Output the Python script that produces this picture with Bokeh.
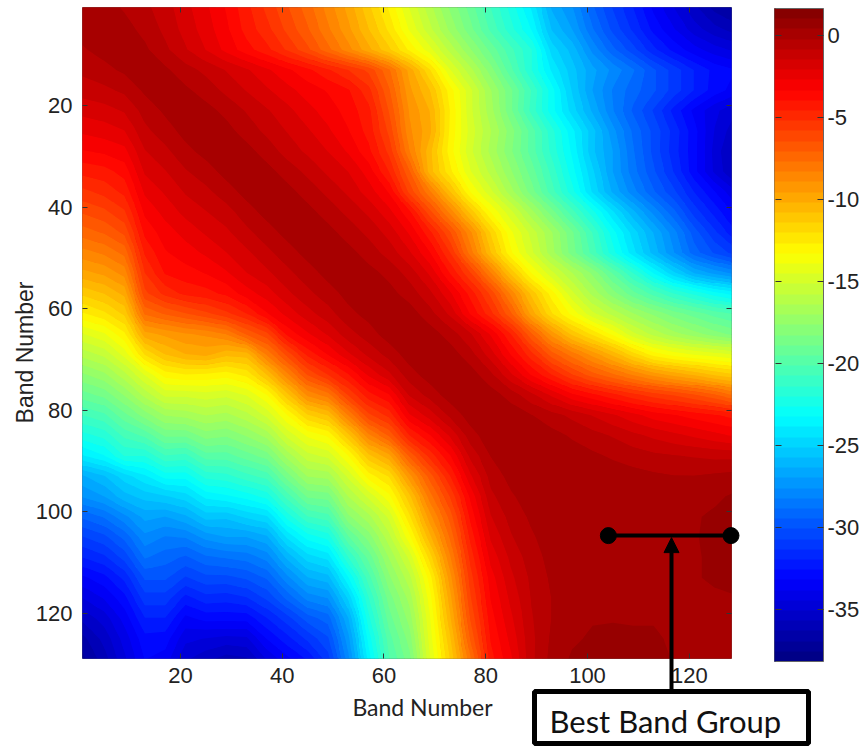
import numpy as np
from bokeh.plotting import figure
from bokeh.layouts import column
from bokeh.core.properties import value
from bokeh.models import (LinearColorMapper, ColorBar, FixedTicker, LinearAxis, Range1d, AllLabels,
                          Arrow, NormalHead)
from bokeh.embed import file_html
from bokeh.resources import INLINE

# band positions of the read grid
bands = list(range(1, 130, 4))
x_ticks = [20, 40, 60, 80, 100, 120]
y_ticks = [20, 40, 60, 80, 100, 120]
cbar_ticks = [-35, -30, -25, -20, -15, -10, -5, 0]
value_low, value_high = -38.2, 1.65
x_label = "Band Number"
y_label = "Band Number"
callout = "Best Band Group"
group_start, group_end = 104.1, 128.2
group_row = 104.7

# upper triangle of the symmetric matrix, each row starts on the diagonal
r01 = [.2,0,-.3,-.7,-1.2,-1.9,-2.6,-3.4,-4.4,-5.4,-6.4,-7.4,-8.6,-9.8,-11.3,-12.8,-14.6,-16.2,-17.8,-19.2,-20.8,-22.3,-24,-26.5,-27.6,-29.4,-30.8,-32,-33.4,-34.5,-35.6,-36.6,-37.2]
r05 = [.3,0,-.4,-1,-1.7,-2.4,-3.2,-4.2,-5,-6,-7,-8.2,-9.4,-10.8,-12.2,-14,-15.6,-17.2,-18.7,-20.3,-21.8,-23.3,-25.8,-27,-28.8,-30.3,-31.5,-32.8,-33.8,-34.8,-35.5,-36]
r09 = [.35,-.1,-.7,-1.4,-2.1,-2.9,-3.7,-4.4,-5.3,-6.3,-7.5,-8.7,-10,-11.3,-12.8,-14.3,-16,-17.6,-19.1,-20.6,-22,-24.8,-26,-27.8,-29.3,-30.5,-31.8,-32.8,-33.6,-34.2,-34.6]
r13 = [.3,-.1,-.6,-1,-1.5,-2,-2.6,-3.2,-3.8,-4.5,-5.2,-6,-7.6,-9.8,-12,-14.5,-16.2,-18,-20,-22,-24,-25.5,-26.8,-27.8,-28.8,-30,-31,-32,-32.8,-33.2]
r17 = [.35,-.1,-.5,-1,-1.5,-2,-2.5,-3,-3.4,-3.9,-5,-7,-9.4,-10.8,-13,-15,-17,-18.8,-20.8,-23,-25.2,-27,-28.3,-29.2,-30,-31,-32,-32.9,-33.5]
r21 = [.35,0,-.4,-.9,-1.4,-1.9,-2.5,-3,-3.6,-4.4,-6.5,-9,-10.2,-12.7,-15,-16.8,-18.8,-21,-23,-24.8,-26.5,-28.2,-29.6,-30.8,-32.2,-33.4,-34.3,-35]
r25 = [.35,0,-.5,-1,-1.5,-2,-2.6,-3.3,-4.2,-6,-8.8,-10,-12.8,-14.8,-16.4,-18,-19.8,-21.8,-23.7,-25.5,-27.4,-29,-30.3,-31.6,-33,-34.5,-35.5]
r29 = [.35,0,-.5,-1.1,-1.6,-2.1,-2.8,-3.8,-5.4,-8.3,-10.6,-13,-15,-16.6,-18.2,-19.8,-21.6,-23.4,-25.6,-27,-28.8,-30.3,-31.7,-33,-34.7,-36]
r33 = [.35,0,-.5,-1,-1.6,-2.1,-3,-4.6,-7,-10.5,-12.5,-14.5,-16,-17.6,-19.2,-21,-23,-25,-27,-28.6,-30,-31.4,-33,-34.6,-35.8]
r37 = [.35,0,-.5,-1,-1.6,-2.4,-3.4,-6,-8.2,-10.8,-13.3,-15,-16.8,-18.6,-20.5,-22.4,-24.6,-26.5,-28,-29.4,-30.6,-32,-33.2,-34.4]
r41 = [.35,0,-.5,-1,-1.6,-2.5,-3.8,-6.2,-8.5,-11,-13.3,-15,-16.8,-18.6,-20.5,-22.4,-24.4,-26.2,-27.8,-29.3,-31,-32.2,-33.4]
r45 = [.35,0,-.5,-1,-1.7,-2.8,-4.4,-6.4,-8.8,-11.5,-13.8,-15.4,-17,-18.8,-20.8,-23,-24.8,-26.4,-28,-29.8,-31.2,-32.5]
r49 = [.35,0,-.5,-1.1,-2,-3.3,-5.2,-8,-10.8,-13.2,-15,-16.8,-18.6,-20.4,-22.4,-24.3,-26,-27.6,-29.2,-30.2,-31]
r53 = [.35,0,-.4,-1.1,-2.2,-4,-5.8,-8.3,-11,-13.3,-15,-16.4,-17.8,-19.6,-21.4,-23.3,-25,-26.4,-27.2,-27.8]
r57 = [.35,0,-.5,-1.3,-2.6,-4.2,-6,-8.5,-11,-13,-15,-16.6,-18,-19.3,-20.4,-21.4,-22.2,-23,-23.6]
r61 = [.35,.1,-.6,-1.6,-3.4,-5,-7,-9.8,-12,-13.5,-15,-16,-17,-17.8,-18.6,-19.2,-19.8,-20.2]
r65 = [.35,.1,-.5,-1.4,-2.8,-4.6,-7,-9.2,-11,-12.2,-13.5,-15,-16,-16.8,-17.4,-18,-18.5]
r69 = [.35,.1,-.6,-1.8,-3.4,-5,-6.8,-8,-9.2,-10.4,-11.8,-13,-13.6,-14,-14.3,-14.6]
r73 = [.35,.1,-.7,-2,-3.4,-4.6,-5.8,-6.8,-7.6,-8.4,-9.2,-9.8,-10.3,-10.9,-11.4]
r77 = [.35,.1,-.5,-1.3,-2.2,-3.2,-3.8,-4.4,-5,-5.5,-5.9,-6.4,-7,-7.8]
r81 = [.35,.2,-.2,-.6,-1,-1.5,-2,-2.5,-3,-3.3,-3.6,-3.9,-4.2]
r85 = [.35,.3,0,-.3,-.6,-.9,-1.3,-1.6,-1.9,-2.2,-2.5,-2.8]
r89 = [.35,.3,.1,-.1,-.3,-.5,-.7,-.8,-.9,-1,-1]
r93 = [.35,.3,.2,.1,0,-.1,-.2,-.2,-.1,0]
r97 = [.35,.3,.3,.3,.2,.2,.2,.3,.5]
r101 = [.35,.3,.3,.3,.3,.35,.5,.8]
r105 = [.35,.3,.3,.3,.35,.6,.9]
r109 = [.35,.3,.3,.35,.5,.9]
r113 = [.35,.3,.35,.5,.7]
r117 = [.35,.3,.3,.35]
r121 = [.35,.3,.3]
r125 = [.35,.3]
r129 = [.35]
rows = [r01,r05,r09,r13,r17,r21,r25,r29,r33,r37,r41,r45,r49,r53,r57,r61,r65,r69,r73,r77,r81,r85,r89,r93,r97,r101,r105,r109,r113,r117,r121,r125,r129]

n = len(bands)
Z = np.zeros((n, n))
for i, row in enumerate(rows):
    assert len(row) == n - i, i
    Z[i, i:] = row
    Z[i:, i] = row


def jet(m=64):
    out = []
    for k in range(m):
        t = (k + 0.5) / m
        r = np.clip(min(4 * t - 1.5, -4 * t + 4.5), 0, 1)
        g = np.clip(min(4 * t - 0.5, -4 * t + 3.5), 0, 1)
        b = np.clip(min(4 * t + 0.5, -4 * t + 2.5), 0, 1)
        out.append("#%02x%02x%02x" % (int(r * 255), int(g * 255), int(b * 255)))
    return out


palette = jet()
mapper = LinearColorMapper(palette=palette, low=value_low, high=value_high)

W, H = 865, 746
X0, X1 = 0.75, 128.3
Y0, Y1 = 0.7, 128.9
FL, FT, FW, FH = 82, 7, 649, 651

p = figure(width=W, height=H, output_backend="svg", toolbar_location=None,
           x_range=Range1d(X0, X1), y_range=Range1d(Y1, Y0),
           frame_width=FW, frame_height=FH, min_border_left=FL, min_border_top=FT,
           min_border_right=W - FL - FW, min_border_bottom=H - FT - FH)
p.grid.visible = False
p.outline_line_color = "#666666"
p.background_fill_color = None
p.border_fill_color = None

step = bands[1] - bands[0]
# blocks below, filled level bands above (the level bands leave no gaps between their shapes)
p.image(image=[Z], x=bands[0] - step / 2, y=bands[0] - step / 2, dw=step * n, dh=step * n, color_mapper=mapper)
grid_x = np.array(bands, dtype=float)
grid_x[0] = 0.5
gx, gy = np.meshgrid(grid_x, grid_x)
levels = np.linspace(value_low, value_high, len(palette) + 1)
p.contour(gx, gy, Z, levels=levels, fill_color=palette, line_color=None)

TICK_FONT = "Liberation Sans"
for ax, ticks in ((p.xaxis[0], x_ticks), (p.yaxis[0], y_ticks)):
    ax.ticker = FixedTicker(ticks=ticks)
    ax.major_tick_in = 5
    ax.major_tick_out = 0
    ax.minor_tick_line_color = None
    ax.axis_line_color = None
    ax.major_tick_line_color = "#333333"
    ax.major_label_text_font = TICK_FONT
    ax.major_label_text_font_size = "22px"
    ax.major_label_text_color = "#222222"
p.xaxis[0].major_label_standoff = 9
p.yaxis[0].major_label_standoff = 10

top = LinearAxis(ticker=FixedTicker(ticks=x_ticks), major_tick_in=5, major_tick_out=0, minor_tick_line_color=None,
                 axis_line_color=None, major_tick_line_color="#333333", major_label_overrides={t: "" for t in x_ticks},
                 major_label_standoff=0)
right = LinearAxis(ticker=FixedTicker(ticks=y_ticks), major_tick_in=5, major_tick_out=0, minor_tick_line_color=None,
                   axis_line_color=None, major_tick_line_color="#333333", major_label_overrides={t: "" for t in y_ticks},
                   major_label_standoff=0)
p.add_layout(top, "above")
p.add_layout(right, "right")

# colour bar, with a thin twin whose outward ticks mark the left edge
cb = ColorBar(color_mapper=mapper, ticker=FixedTicker(ticks=cbar_ticks), location=(692, -3), width=49, height=653,
              padding=0, margin=0, major_tick_in=6, major_tick_out=0, minor_tick_line_color=None,
              major_label_policy=AllLabels(), major_label_overrides={t: str(t) for t in cbar_ticks},
              major_tick_line_color="#333333", bar_line_color="#666666", background_fill_color=None, border_line_color=None,
              major_label_text_font=TICK_FONT, major_label_text_font_size="22px", major_label_text_color="#222222", label_standoff=4)
cb2 = ColorBar(color_mapper=mapper, ticker=FixedTicker(ticks=cbar_ticks), location=(692, -3), width=1, height=653,
               padding=0, margin=0, major_tick_in=0, major_tick_out=6, minor_tick_line_color=None,
               major_label_overrides={t: "" for t in cbar_ticks},
               major_tick_line_color="#333333", bar_line_color=None, background_fill_color=None, border_line_color=None)
p.add_layout(cb, "center")
p.add_layout(cb2, "center")

# a transparent sheet in page pixels lies over the chart, for all that crosses the frame's edge
q = figure(width=W, height=H, output_backend="svg", toolbar_location=None,
           x_range=Range1d(0, W), y_range=Range1d(H, 0), min_border=0, outline_line_color=None,
           background_fill_color=None, border_fill_color=None)
q.grid.visible = False
q.xaxis.visible = False
q.yaxis.visible = False


def px(b):
    return FL + (b - X0) * FW / (X1 - X0)


def py(b):
    return FT + (b - Y0) * FH / (Y1 - Y0)


q.text(x=[422], y=[706], text=[x_label], text_align="center", text_baseline="middle",
       text_font=value("Lato"), text_font_size="23px", text_color="#222222")
q.text(x=[24], y=[352], text=[y_label], angle=np.pi / 2, text_align="center", text_baseline="middle",
       text_font=value(TICK_FONT), text_font_size="23px", text_color="#222222")
q.segment(x0=[px(group_start)], x1=[px(group_end)], y0=[py(group_row)], y1=[py(group_row)], line_color="black", line_width=4)
q.scatter(x=[px(group_start), px(group_end)], y=[py(group_row)] * 2, size=16, color="black")
q.add_layout(Arrow(x_start=671, x_end=671, y_start=692, y_end=py(group_row) + 2, line_color="black", line_width=4,
                   end=NormalHead(size=15, fill_color="black", line_color="black")))
q.quad(left=[534], right=[808], top=[691], bottom=[743], fill_color="white", line_color="black", line_width=5)
q.text(x=[549], y=[720], text=[callout], text_baseline="middle", text_font=value("Lato"),
       text_font_size="31px", text_color="#111111")

sheet = column(q, margin=(-H, 0, 0, 0))
open("out.html", "w").write(file_html(column(p, sheet, spacing=0), INLINE))
